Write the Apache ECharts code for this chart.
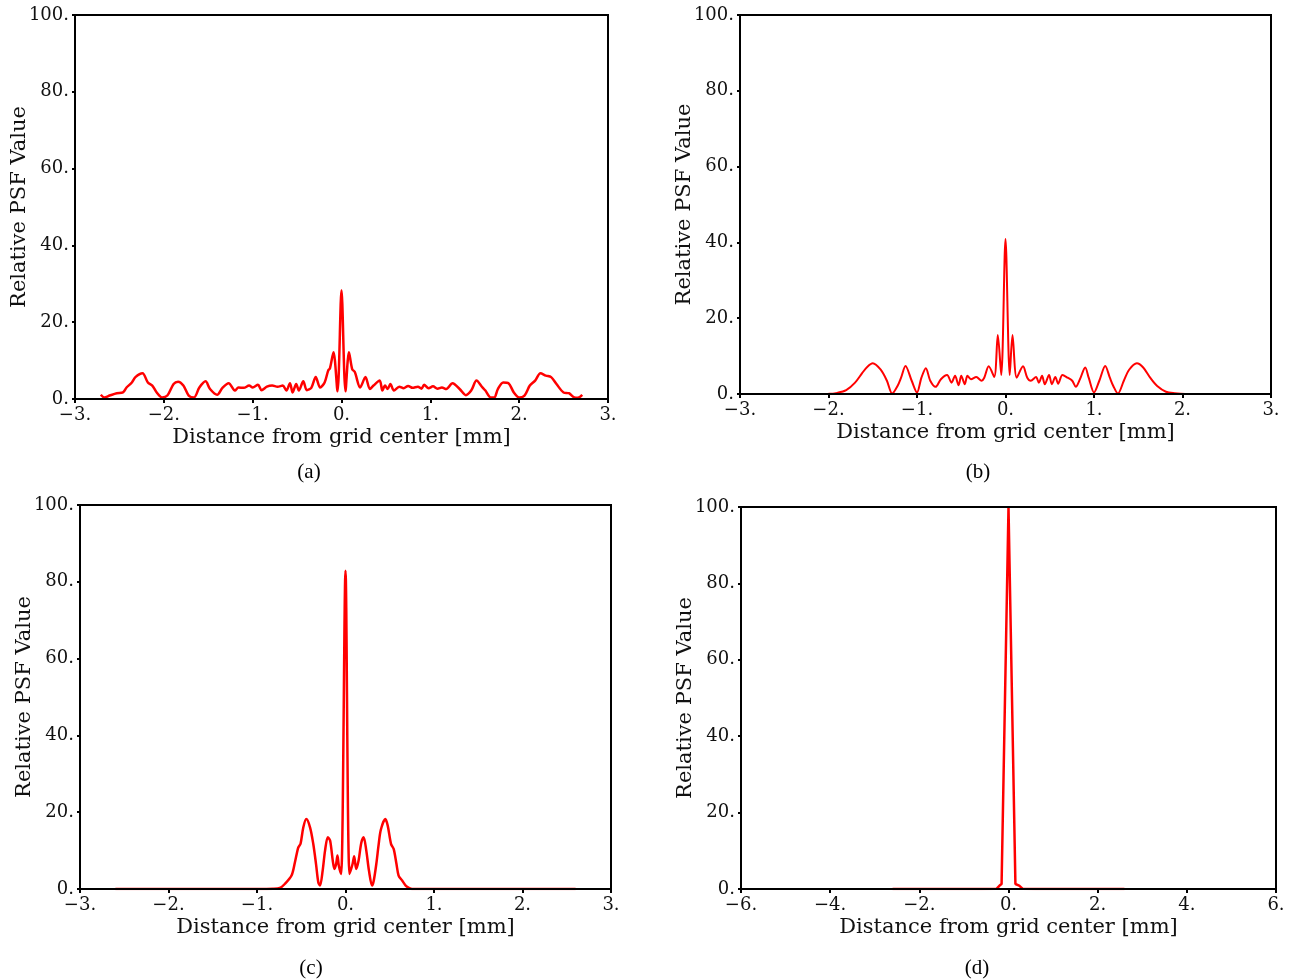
<!DOCTYPE html>
<html>
<head>
<meta charset="utf-8">
<script src="https://cdn.jsdelivr.net/npm/echarts@6/dist/echarts.min.js"></script>
<style>
html,body{margin:0;padding:0;background:#fff;}
#chart{width:1295px;height:980px;}
</style>
</head>
<body>
<div id="chart"></div>
<script>
// ---- Panel (a) ----
const xA = [-2.71,-2.67,-2.61,-2.53,-2.46,-2.42,-2.36,-2.32,-2.24,-2.18,-2.13,-2.08,-2.02,-1.96,-1.89,-1.84,-1.78,-1.72,-1.66,-1.60,-1.53,-1.48,-1.40,-1.34,-1.27,-1.20,-1.16,-1.10,-1.04,-1.00,-0.94,-0.90,-0.84,-0.78,-0.72,-0.66,-0.62,-0.58,-0.55,-0.51,-0.48,-0.43,-0.39,-0.34,-0.29,-0.24,-0.19,-0.15,-0.13,-0.09,-0.045,0,0.045,0.084,0.12,0.15,0.21,0.27,0.32,0.36,0.43,0.46,0.49,0.52,0.55,0.59,0.65,0.70,0.75,0.80,0.86,0.90,0.93,0.98,1.03,1.08,1.13,1.18,1.25,1.33,1.40,1.46,1.52,1.58,1.62,1.68,1.72,1.76,1.82,1.88,1.94,2.00,2.06,2.12,2.18,2.24,2.30,2.36,2.42,2.50,2.56,2.62,2.66,2.71];
const yA = [1.1,0.4,0.9,1.5,1.7,3.0,4.3,5.7,6.7,4.3,3.5,1.7,0.4,0.9,3.9,4.5,3.5,0.9,0.4,3.0,4.6,2.6,1.1,2.9,4.1,2.2,3.0,2.9,3.5,3.0,3.7,2.3,3.2,3.5,3.2,3.5,2.2,4.1,1.7,3.9,2.2,4.6,2.3,2.9,5.7,3.0,4.3,7.4,8.0,12.2,2.0,28.3,2.0,12.2,7.8,7.0,3.0,5.7,2.6,3.5,4.8,2.2,3.5,2.6,3.9,2.2,3.2,2.8,3.4,2.9,3.2,2.7,3.7,2.8,3.3,2.7,3.0,2.6,4.1,2.6,1.0,2.2,4.8,3.2,2.2,0.4,0.4,2.6,4.3,4.1,1.7,0.4,0.9,3.5,4.8,6.7,6.1,5.7,3.9,1.7,1.5,0.4,0.3,1.1];

// ---- Panel (b) ----
const xB = [-2.61,-2.00,-1.90,-1.80,-1.70,-1.62,-1.56,-1.50,-1.41,-1.34,-1.28,-1.22,-1.18,-1.13,-1.06,-1.00,-0.95,-0.90,-0.85,-0.79,-0.73,-0.66,-0.61,-0.57,-0.53,-0.50,-0.46,-0.43,-0.39,-0.33,-0.27,-0.24,-0.19,-0.127,-0.087,-0.048,0,0.048,0.079,0.127,0.198,0.246,0.286,0.345,0.377,0.413,0.444,0.492,0.524,0.563,0.595,0.643,0.702,0.754,0.794,0.841,0.901,0.940,1.00,1.06,1.127,1.179,1.218,1.27,1.337,1.397,1.484,1.556,1.635,1.714,1.813,1.913,2.03,2.59];
const yB = [0,0.05,0.3,1.0,3.0,5.5,7.2,8.1,6.4,3.5,0.1,2.1,4.3,7.4,3.5,0.4,4.3,6.8,3.5,1.9,3.9,5.0,3.0,4.8,2.3,4.8,2.6,4.8,3.9,4.5,3.5,4.3,7.3,4.5,15.6,5.0,40.9,5.0,15.6,4.3,7.3,4.3,3.5,4.5,3.0,4.8,2.6,5.0,2.6,4.5,2.7,5.0,4.3,3.5,1.9,3.9,7.0,4.3,0.4,3.5,7.4,4.3,2.1,0.1,3.5,6.4,8.1,7.0,4.3,2.1,0.6,0.2,0,0];

// ---- Panel (c) ----
const xC = [-2.6,-1.0,-0.82,-0.742,-0.686,-0.61,-0.572,-0.534,-0.508,-0.477,-0.443,-0.40,-0.364,-0.333,-0.307,-0.288,-0.258,-0.231,-0.20,-0.174,-0.144,-0.125,-0.106,-0.091,-0.076,-0.049,0,0.045,0.08,0.098,0.121,0.148,0.178,0.205,0.235,0.265,0.30,0.318,0.348,0.375,0.40,0.45,0.477,0.515,0.545,0.576,0.60,0.64,0.68,0.716,0.754,1.0,2.6];
const yC = [0,0,0.05,0.26,1.3,3.5,6.9,10.8,11.8,16.0,18.2,16.0,11.7,6.5,1.7,0.9,4.8,10.0,13.5,12.6,7.4,5.2,6.5,8.7,6.1,3.9,82.9,3.9,6.5,8.5,5.2,7.4,12.0,13.5,10.0,4.8,0.9,2.0,6.5,11.7,15.5,18.2,16.5,11.7,10.4,6.5,3.5,2.2,0.9,0.3,0,0,0];

// ---- Panel (d) ----
const xD = [-2.6,-0.6,-0.27,-0.2,-0.155,0,0.155,0.24,0.32,0.6,2.6];
const yD = [0,0,0.05,0.9,1.3,100,1.3,0.9,0.05,0,0];

// ---- Ticks / text ----
const xTicksABC = {min:-3, max:3, interval:1};
const xTicksD = {min:-6, max:6, interval:2};
const yTicks = {min:0, max:100, interval:20};
const xTitle = 'Distance from grid center [mm]';
const yTitle = 'Relative PSF Value';
const captions = ['(a)','(b)','(c)','(d)'];

const grids = [
  {left:75, top:15, width:533, height:384},
  {left:740, top:15, width:531, height:379},
  {left:80, top:505, width:531, height:384},
  {left:741, top:507, width:535, height:382}
];
const captionPos = [[309,472],[978,472],[311,968],[977,968]];

function fmt(v){ return (v<0?'\u2212':'') + Math.abs(v) + '.'; }
const FONT = 'DejaVu Serif';

const xAxes = grids.map((g,i)=>{
  const t = i===3 ? xTicksD : xTicksABC;
  return {
    type:'value', gridIndex:i, min:t.min, max:t.max, interval:t.interval, z:5,
    name:xTitle, nameLocation:'middle', nameGap:28, nameMoveOverlap:false,
    nameTextStyle:{fontFamily:FONT, fontSize:21, color:'#111'},
    axisLine:{show:true, onZero:false, lineStyle:{color:'#000', width:2}},
    axisTick:{show:true, inside:false, length:4, lineStyle:{color:'#000', width:2}},
    axisLabel:{formatter:fmt, fontFamily:FONT, fontSize:18, color:'#111', margin:7},
    splitLine:{show:false}
  };
});
const yAxes = grids.map((g,i)=>({
  type:'value', gridIndex:i, min:yTicks.min, max:yTicks.max, interval:yTicks.interval, z:5,
  name:yTitle, nameLocation:'middle', nameGap:45, nameMoveOverlap:false,
  nameTextStyle:{fontFamily:FONT, fontSize:21, color:'#111'},
  axisLine:{show:true, onZero:false, lineStyle:{color:'#000', width:2}},
  axisTick:{show:true, inside:false, length:3, lineStyle:{color:'#000', width:2}},
  axisLabel:{formatter:fmt, fontFamily:FONT, fontSize:18, color:'#111', margin:6},
  splitLine:{show:false}
}));

const datasets = [[xA,yA],[xB,yB],[xC,yC],[xD,yD]];
const widths = [2.5,2,2.5,2.5];
const smooths = [0.3,0.3,0.3,false];
const series = datasets.map((d,i)=>({
  type:'line', xAxisIndex:i, yAxisIndex:i,
  data:d[0].map((x,k)=>[x,d[1][k]]),
  showSymbol:false, smooth:smooths[i],
  lineStyle:{color:'#ff0000', width:widths[i]},
  z:2
}));

const chart = echarts.init(document.getElementById('chart'), null, {renderer:'canvas'});
chart.setOption({
  animation:false,
  backgroundColor:'#fff',
  grid: grids.map(g=>Object.assign({show:true, borderColor:'#000', borderWidth:2, backgroundColor:'transparent', z:5}, g)),
  xAxis:xAxes,
  yAxis:yAxes,
  series:series,
  graphic: captions.map((c,i)=>({
    type:'text', x:captionPos[i][0], y:captionPos[i][1],
    style:{text:c, font:'21px "Liberation Serif"', fill:'#000', textAlign:'center', textVerticalAlign:'middle'}
  }))
});
</script>
</body>
</html>
